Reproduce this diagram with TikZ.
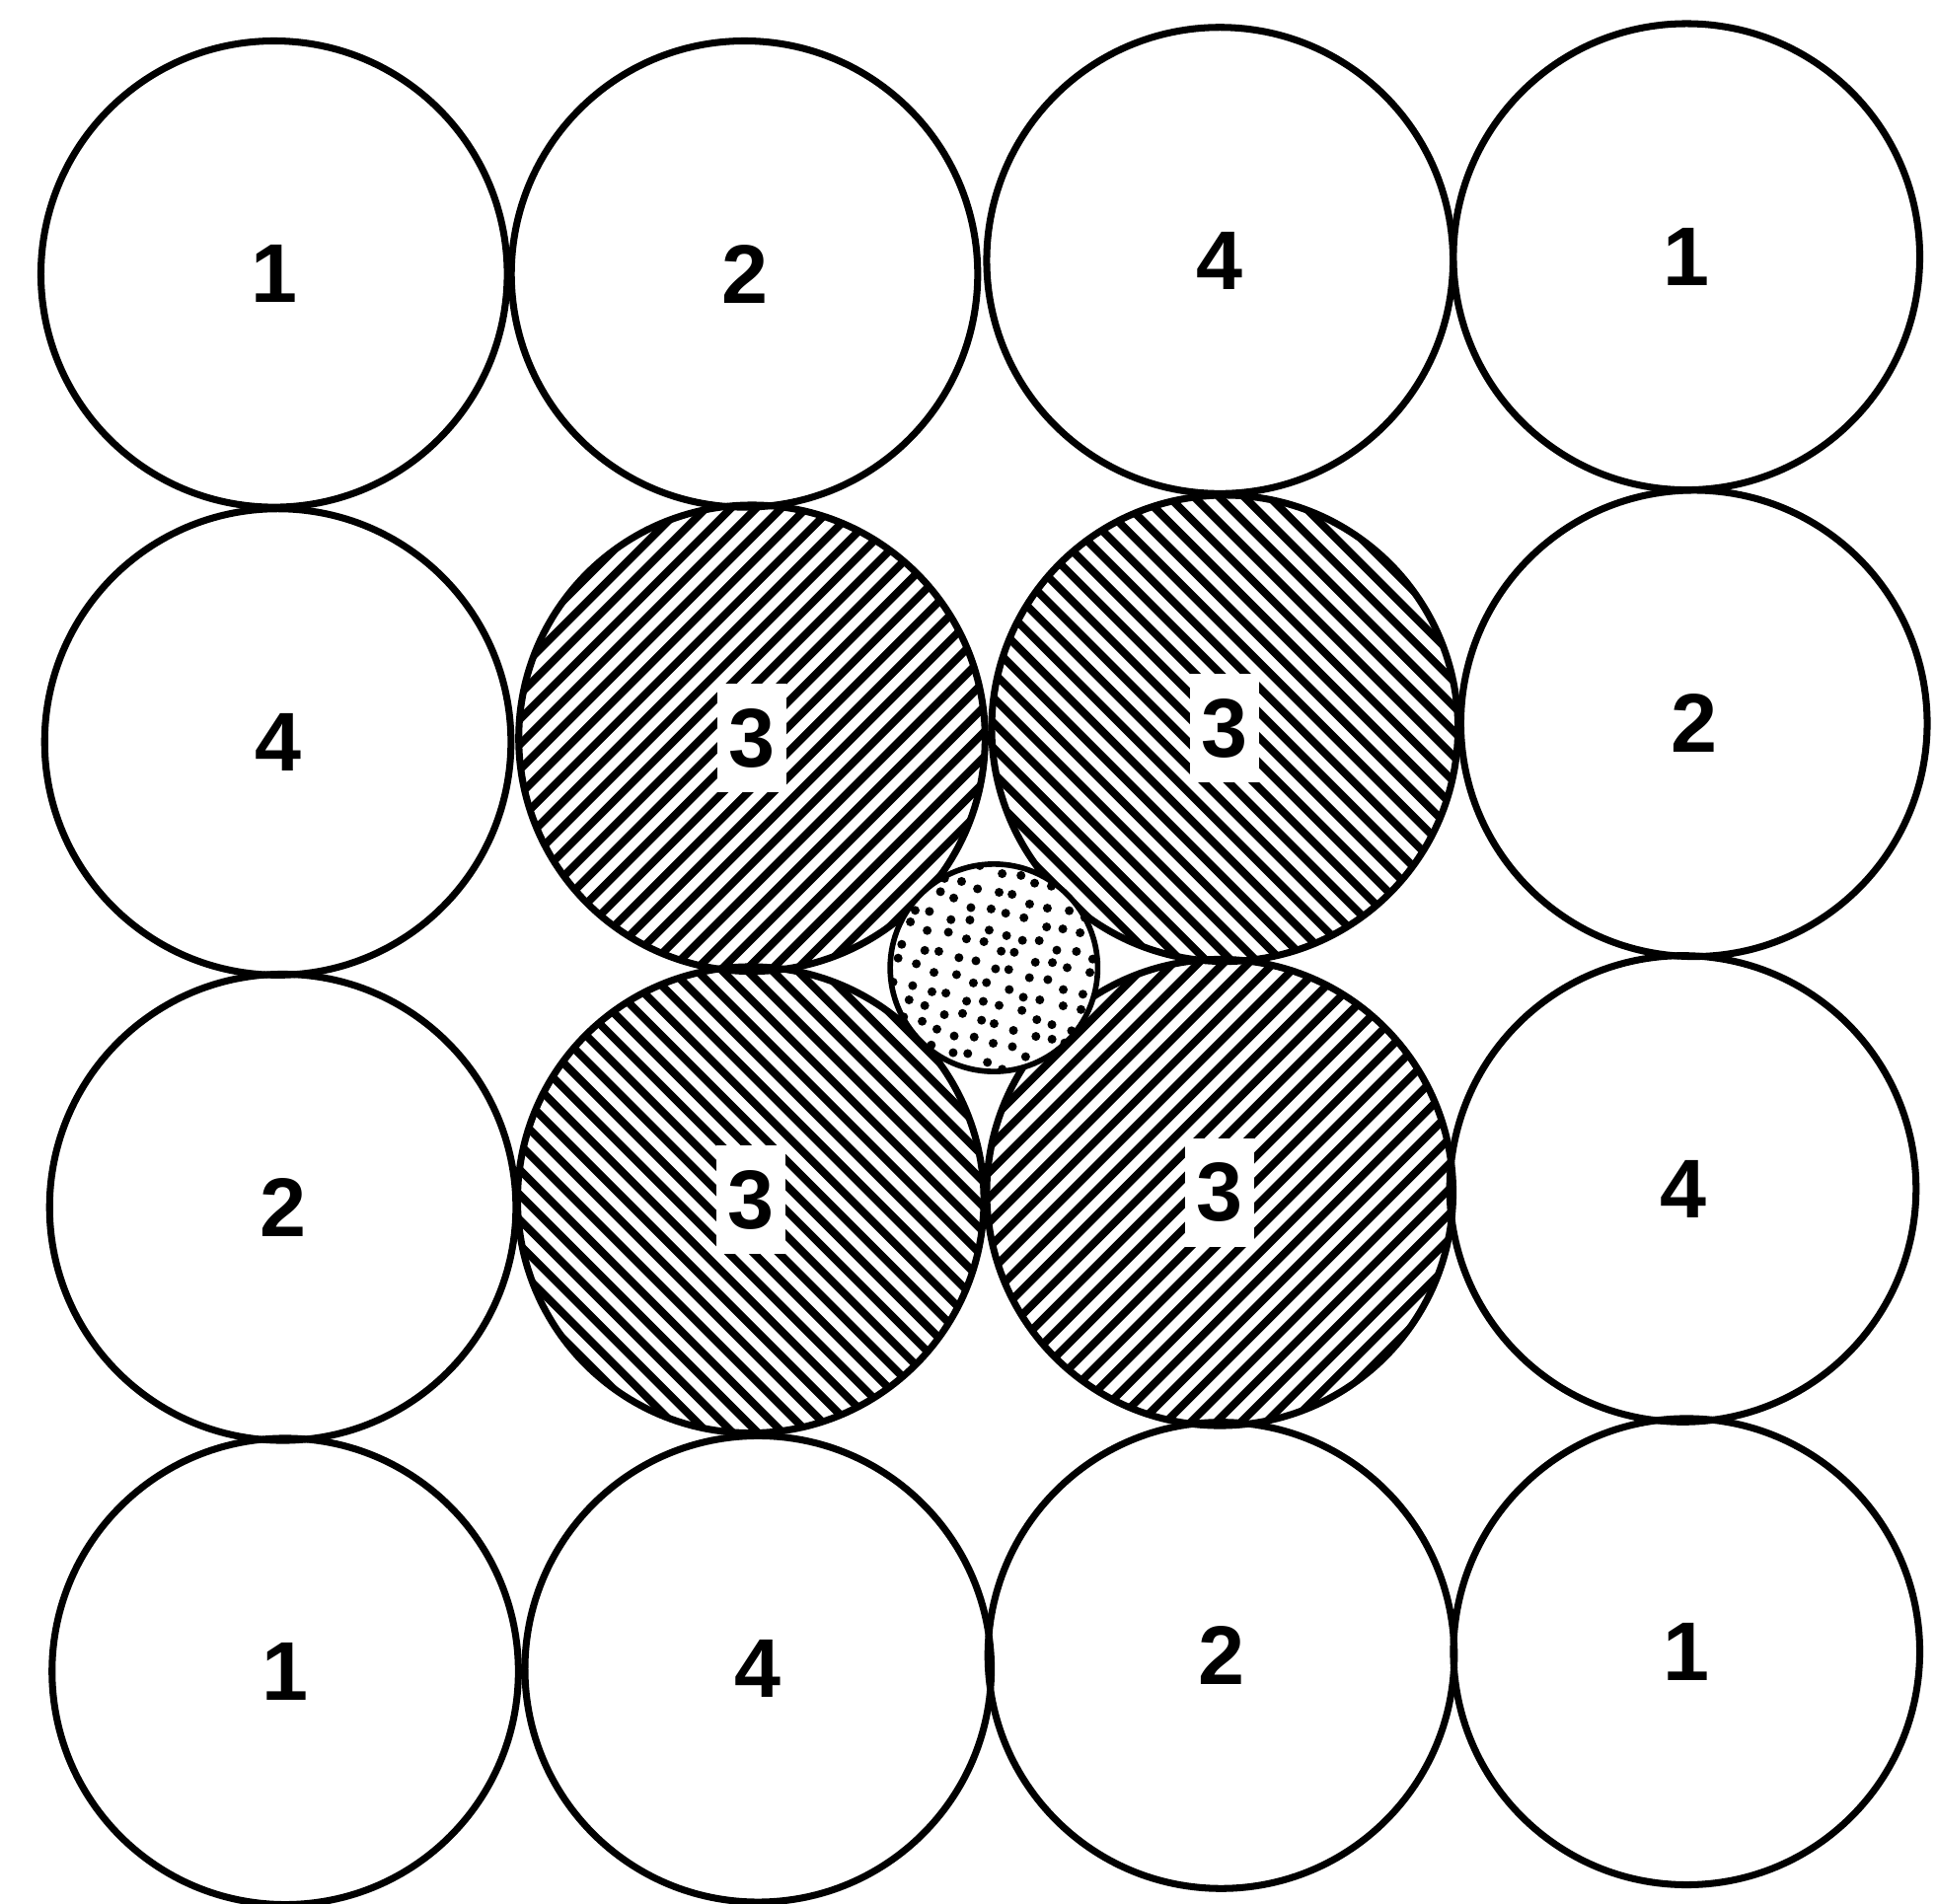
\documentclass[tikz,border=0pt]{standalone}
\usepackage{fontspec}
\setsansfont{Liberation Sans}
\usetikzlibrary{calc}

\tikzset{
  strand/.style={circle, draw, line width=2pt, minimum size=4.72cm,
    inner sep=0pt, outer sep=0pt, font=\sffamily\bfseries\fontsize{24}{28}\selectfont},
  hatchup/.style={strand, path picture={
    \foreach \k in {0,...,30}
      \draw[line width=0.08cm]
        ($(path picture bounding box.center)+({(\k-15)*0.127cm-2.6cm},{(15-\k)*0.127cm-2.6cm})$)
        -- ++(5.2cm,5.2cm);}},
  hatchdown/.style={strand, path picture={
    \foreach \k in {0,...,30}
      \draw[line width=0.08cm]
        ($(path picture bounding box.center)+({(\k-15)*0.127cm-2.6cm},{(\k-15)*0.127cm+2.6cm})$)
        -- ++(5.2cm,-5.2cm);}},
  tag/.style={fill=white, inner sep=0pt, minimum width=0.7cm,
    minimum height=1.1cm, font=\sffamily\bfseries\fontsize{24}{28}\selectfont},
  core/.style={circle, draw, fill=white, line width=1.6pt, minimum size=2.1cm,
    inner sep=0pt, path picture={
    \foreach \i in {0,...,12}
      \foreach \j in {0,...,12}
        \fill[black] ($(path picture bounding box.center)
               +({(\i-6)*0.18cm+(\j-6)*0.05cm+0.035cm*rand},{(\j-6)*0.18cm-(\i-6)*0.05cm+0.035cm*rand})$)
               circle (0.045cm);}}
}

\begin{document}
\begin{tikzpicture}[x=0.0125cm, y=-0.0125cm]
  \useasboundingbox (0,0) rectangle (1568,1542);
  \pgfmathsetseed{7}

  % Outer strands
  \foreach \n/\x/\y/\t in {s11/222/222/1, s12/603/222/2, s13/988/211/4, s14/1366/208/1,
                           s21/225/601/4, s24/1372/586/2,
                           s31/229/978/2, s34/1363/963/4,
                           s41/231/1354/1, s42/614/1352/4, s43/989/1341/2, s44/1366/1338/1}
    \node[strand] (\n) at (\x,\y) {\t};

  % Hatched strands
  \node[hatchup, label={[tag]center:3}] (s22) at (609,598) {};
  \node[hatchdown, label={[tag]center:3}] (s23) at (992,590) {};
  \node[hatchdown, label={[tag]center:3}] (s32) at (608,972) {};
  \node[hatchup, label={[tag]center:3}] (s33) at (988,966) {};

  % Core
  \node[core] (c) at (805,784) {};
\end{tikzpicture}
\end{document}
